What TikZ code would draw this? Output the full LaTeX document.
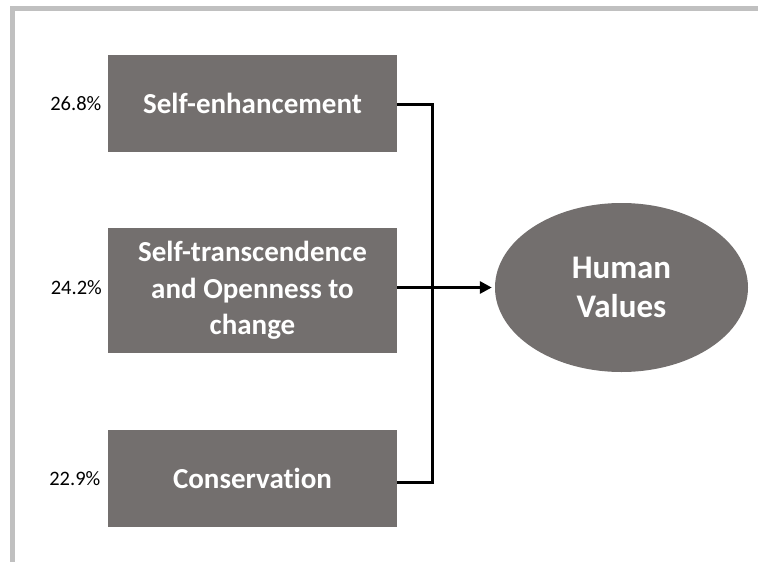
\documentclass[tikz,border=0pt]{standalone}
\usepackage{fontspec}
\setmainfont[Ligatures=NoCommon]{Carlito}
\usetikzlibrary{shapes.geometric,arrows.meta}
\definecolor{boxgray}{RGB}{115,111,110}
\definecolor{framegray}{RGB}{192,192,192}
\tikzset{
  factor/.style={draw=none,fill=boxgray,minimum width=289pt,inner sep=0pt,
    text=white,align=center,font=\fontsize{29}{36.5}\selectfont\bfseries},
  target/.style={ellipse,draw=none,fill=boxgray,minimum width=253pt,minimum height=169pt,
    inner sep=0pt,text=white,align=center,font=\fontsize{33}{38.5}\selectfont\bfseries},
  pct/.style={anchor=east,inner sep=0pt,font=\fontsize{20.5}{24}\selectfont},
  conn/.style={line width=3pt,black,line join=miter},
}
\begin{document}
\begin{tikzpicture}[x=1pt,y=-1pt]
\useasboundingbox (0,0) rectangle (758,562);
% frame (top and left)
\fill[framegray] (10,6) rectangle (758,11);
\fill[framegray] (10,6) rectangle (14.5,562);
% factor boxes
\node[factor,minimum height=97pt] (b1) at (252.5,103.5) {Self-enhancement};
\node[factor,minimum height=125pt] (b2) at (252.5,290.5) {Self-transcendence\\and Openness to\\change};
\node[factor,minimum height=97pt] (b3) at (252.5,478.5) {Conservation};
% target
\node[target] (hv) at (621.5,287.5) {Human\\Values};
% percentages
\node[pct] (p1) at (101.5,104) {26.8\%};
\node[pct] (p2) at (102,288) {24.2\%};
\node[pct] (p3) at (100.5,479) {22.9\%};
% connectors
\coordinate (j) at (432,290);
\draw[conn] ([yshift=-0.5pt]b1.east) -| (j) |- ([yshift=-3.5pt]b3.east);
\draw[conn,-{Triangle[length=12pt,width=12pt]}] (b2.east |- hv.west) -- ([xshift=-3pt]hv.west);
\end{tikzpicture}
\end{document}
